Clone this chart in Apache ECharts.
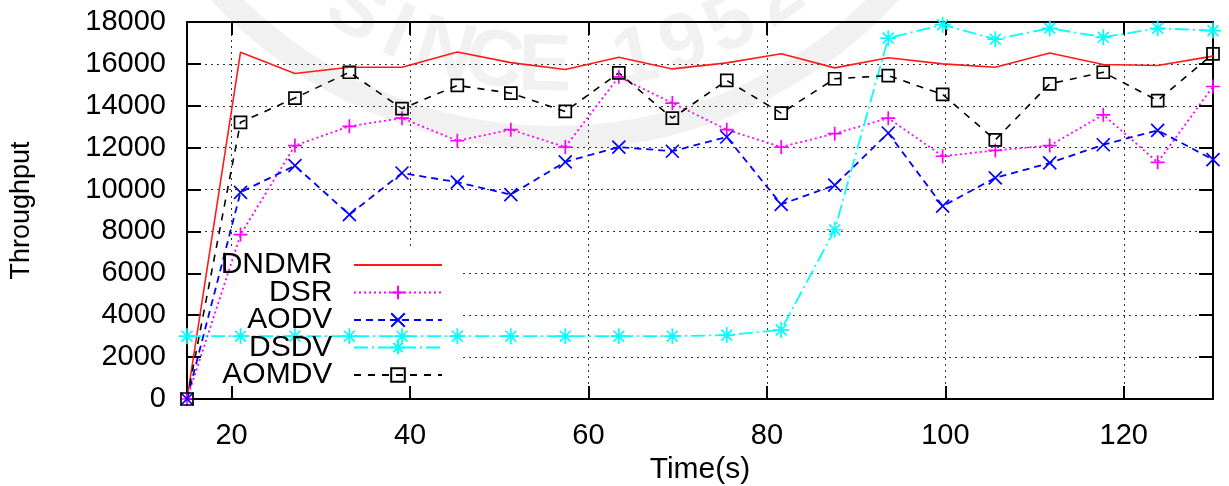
<!DOCTYPE html>
<html>
<head>
<meta charset="utf-8">
<script src="https://cdn.jsdelivr.net/npm/echarts@6/dist/echarts.min.js"></script>
<style>
html,body{margin:0;padding:0;background:#fff;}
#chart{width:1229px;height:486px;}
</style>
</head>
<body>
<div id="chart"></div>
<script>
// ---- data ----
const times = [15, 21, 27.1, 33.2, 39.1, 45.3, 51.3, 57.4, 63.4, 69.4, 75.5, 81.6, 87.6, 93.6, 99.7, 105.6, 111.7, 117.7, 123.8, 130];
const xTickValues = [20, 40, 60, 80, 100, 120];
const seriesNames = ['DNDMR', 'DSR', 'AODV', 'DSDV', 'AOMDV'];
const dndmr = [0, 16560, 15540, 15840, 15840, 16570, 16060, 15730, 16320, 15760, 16050, 16480, 15810, 16290, 16000, 15840, 16520, 15970, 15920, 16370];
const dsr   = [0, 7850, 12100, 13020, 13410, 12330, 12860, 12030, 15380, 14130, 12860, 12030, 12670, 13410, 11590, 11870, 12100, 13570, 11300, 14920];
const aodv  = [0, 9870, 11140, 8800, 10790, 10350, 9760, 11320, 12030, 11830, 12510, 9290, 10210, 12700, 9210, 10560, 11270, 12140, 12830, 11430];
const dsdv  = [3000, 3000, 3000, 3000, 3000, 3000, 3000, 3000, 3000, 3000, 3050, 3300, 8080, 17230, 17870, 17180, 17700, 17270, 17700, 17590];
const aomdv = [0, 13210, 14370, 15600, 13860, 14970, 14600, 13730, 15570, 13410, 15210, 13650, 15290, 15440, 14540, 12370, 15050, 15600, 14250, 16480];
const watermarkText = 'SINCE 1952';

// ---- chart ----
const FONT = '"Liberation Sans", Arial, sans-serif';
const chart = echarts.init(document.getElementById('chart'), null, {renderer: 'canvas'});
function pairs(vals) { return times.map((t, i) => [t, vals[i]]); }

const SYM_PLUS  = 'path://M5,0L5,10M0,5L10,5';
const SYM_CROSS = 'path://M0,0L10,10M10,0L0,10';
const SYM_STAR  = 'path://M5,0L5,10M0,5L10,5M1.6,1.6L8.4,8.4M8.4,1.6L1.6,8.4';
const SYM_SQ    = 'path://M0,0L10,0L10,10L0,10Z';

function mkSeries(name, vals, color, type, width, symbol, size) {
  const s = {
    name: name,
    type: 'line',
    xAxisIndex: 0, yAxisIndex: 0,
    data: pairs(vals),
    lineStyle: {color: color, width: width, type: type},
    symbol: symbol || 'none',
    showSymbol: !!symbol,
    symbolSize: size || 0,
    itemStyle: {color: 'rgba(0,0,0,0)', borderColor: color, borderWidth: 1.7},
    emphasis: {disabled: true},
    animation: false
  };
  if (!symbol) { s.itemStyle = {color: color}; }
  return s;
}

// watermark (decorative logo stamp)
const wmCx = 555, wmCy = -320, wmR = 388;
const wmAngles = [121, 114, 106.5, 99, 91.5, 84, 78, 70.5, 63, 55];
const wmEls = [];
wmEls.push({
  type: 'arc', z: 0, silent: true,
  shape: {cx: wmCx, cy: wmCy, r: 458, startAngle: 40 * Math.PI / 180, endAngle: 140 * Math.PI / 180, clockwise: true},
  style: {stroke: 'rgba(120,120,120,0.10)', lineWidth: 24, fill: null}
});
watermarkText.split('').forEach((ch, i) => {
  if (ch === ' ') return;
  const a = wmAngles[i] * Math.PI / 180;
  wmEls.push({
    type: 'text', z: 0, silent: true,
    x: wmCx + wmR * Math.cos(a), y: wmCy + wmR * Math.sin(a),
    rotation: (90 - wmAngles[i]) * Math.PI / 180,
    style: {text: ch, font: 'bold 80px ' + FONT, fill: 'rgba(120,120,120,0.10)', align: 'center', verticalAlign: 'middle'}
  });
});
// legend background (covers grid lines like the original key box)
wmEls.push({
  type: 'rect', z: 1, silent: true,
  shape: {x: 203, y: 250, width: 258, height: 136},
  style: {fill: '#fff'}
});

const gridLine = {show: true, lineStyle: {color: '#333', width: 1, type: [2, 4]}};
const axisLineStyle = {show: true, onZero: false, lineStyle: {color: '#000', width: 2}};

const option = {
  backgroundColor: '#fff',
  animation: false,
  grid: {left: 187, right: 16, top: 22, bottom: 87, containLabel: false, outerBoundsMode: 'none'},
  xAxis: [
    {
      type: 'value', position: 'bottom', min: 15, max: 130,
      axisLine: axisLineStyle,
      axisTick: {show: true, inside: true, length: 13, customValues: xTickValues, lineStyle: {color: '#000', width: 2}},
      axisLabel: {show: true, customValues: xTickValues, color: '#000', fontSize: 29, fontFamily: FONT, margin: 22},
      splitLine: gridLine,
      name: 'Time(s)', nameLocation: 'middle', nameGap: 56,
      nameTextStyle: {color: '#000', fontSize: 30, fontFamily: FONT}
    },
    {
      type: 'value', position: 'top', min: 15, max: 130,
      axisLine: axisLineStyle,
      axisTick: {show: true, inside: true, length: 13, customValues: xTickValues, lineStyle: {color: '#000', width: 2}},
      axisLabel: {show: false, customValues: xTickValues},
      splitLine: {show: false}
    }
  ],
  yAxis: [
    {
      type: 'value', position: 'left', min: 0, max: 18000, interval: 2000,
      axisLine: axisLineStyle,
      axisTick: {show: true, inside: true, length: 14, lineStyle: {color: '#000', width: 2}},
      axisLabel: {color: '#000', fontSize: 29, fontFamily: FONT, margin: 21, formatter: v => String(v)},
      splitLine: gridLine,
      name: 'Throughput', nameLocation: 'middle', nameGap: 152, nameRotate: 90,
      nameTextStyle: {color: '#000', fontSize: 27, fontFamily: FONT}
    },
    {
      type: 'value', position: 'right', min: 0, max: 18000, interval: 2000,
      axisLine: axisLineStyle,
      axisTick: {show: true, inside: true, length: 14, lineStyle: {color: '#000', width: 2}},
      axisLabel: {show: false},
      splitLine: {show: false}
    }
  ],
  legend: {
    orient: 'vertical', align: 'right',
    right: 786, top: 250,
    itemWidth: 88, itemHeight: 17, itemGap: -2.5,
    padding: 0,
    selectedMode: false,
    data: [
      {name: seriesNames[0], itemStyle: {opacity: 0}},
      {name: seriesNames[1]},
      {name: seriesNames[2]},
      {name: seriesNames[3]},
      {name: seriesNames[4]}
    ],
    formatter: n => n + '\u00a0\u00a0',
    textStyle: {color: '#000', fontSize: 30, fontFamily: FONT}
  },
  graphic: {elements: wmEls},
  series: [
    mkSeries(seriesNames[0], dndmr, '#ff1a1a', 'solid', 1.6, null, 0),
    mkSeries(seriesNames[1], dsr, '#ff00ff', [2, 3], 1.8, SYM_PLUS, 14),
    mkSeries(seriesNames[2], aodv, '#0000ff', [7, 5], 1.8, SYM_CROSS, 13),
    mkSeries(seriesNames[3], dsdv, '#00ffff', [14, 4, 2, 4], 1.8, SYM_STAR, 16),
    mkSeries(seriesNames[4], aomdv, '#000000', [7, 7], 1.6, SYM_SQ, 12)
  ]
};
chart.setOption(option);
</script>
</body>
</html>
